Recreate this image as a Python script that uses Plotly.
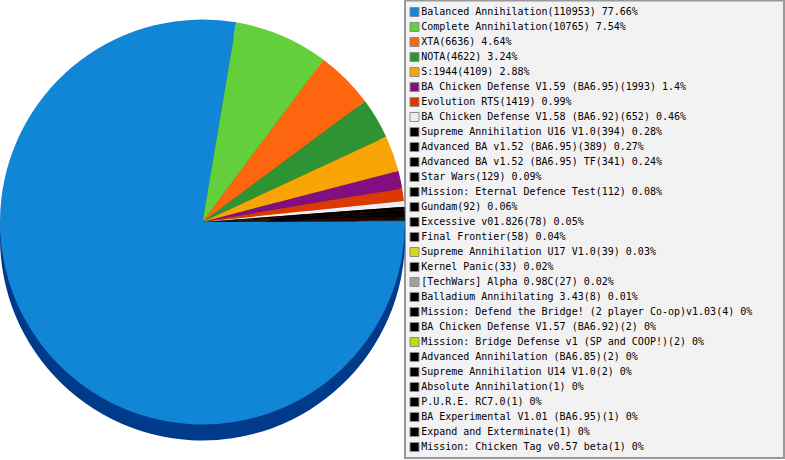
import plotly.graph_objects as go

# ---- data ----
mods = [
    "Balanced Annihilation", "Complete Annihilation", "XTA", "NOTA", "S:1944",
    "BA Chicken Defense V1.59 (BA6.95)", "Evolution RTS", "BA Chicken Defense V1.58 (BA6.92)",
    "Supreme Annihilation U16 V1.0", "Advanced BA v1.52 (BA6.95)", "Advanced BA v1.52 (BA6.95) TF",
    "Star Wars", "Mission: Eternal Defence Test", "Gundam", "Excessive v01.826", "Final Frontier",
    "Supreme Annihilation U17 V1.0", "Kernel Panic", "[TechWars] Alpha 0.98C",
    "Balladium Annihilating 3.43", "Mission: Defend the Bridge! (2 player Co-op)v1.03",
    "BA Chicken Defense V1.57 (BA6.92)", "Mission: Bridge Defense v1 (SP and COOP!)",
    "Advanced Annihilation (BA6.85)", "Supreme Annihilation U14 V1.0", "Absolute Annihilation",
    "P.U.R.E. RC7.0", "BA Experimental V1.01 (BA6.95)", "Expand and Exterminate",
    "Mission: Chicken Tag v0.57 beta",
]
counts = [110953, 10765, 6636, 4622, 4109, 1993, 1419, 652, 394, 389, 341, 129, 112, 92, 78, 58,
          39, 33, 27, 8, 4, 2, 2, 2, 2, 1, 1, 1, 1, 1]
pcts = ["77.66", "7.54", "4.64", "3.24", "2.88", "1.4", "0.99", "0.46", "0.28", "0.27", "0.24",
        "0.09", "0.08", "0.06", "0.05", "0.04", "0.03", "0.02", "0.02", "0.01", "0", "0", "0",
        "0", "0", "0", "0", "0", "0", "0"]

# ---- styles ----
colors = ["#1185d6", "#63cf3a", "#fd660f", "#2e9433", "#f9a405", "#820e80", "#db3900", "#eeeeee",
          "#000000", "#000000", "#000000", "#000000", "#000000", "#000000", "#000000", "#000000",
          "#d8d818", "#000000", "#a0a0a0", "#000000", "#000000", "#000000", "#b8e000", "#000000",
          "#000000", "#000000", "#000000", "#000000", "#000000", "#000000"]
side_colors = ["#003a8a", "#3a8a1e", "#a8420a", "#1a5c1e", "#a86c02", "#50084f", "#8a2400", "#9a9a9a",
               "#000000", "#000000", "#000000", "#000000", "#000000", "#000000", "#000000", "#000000",
               "#8a8a0e", "#000000", "#606060", "#000000", "#000000", "#000000", "#708a00", "#000000",
               "#000000", "#000000", "#000000", "#000000", "#000000", "#000000"]

labels = [f"{m}({c}) {p}%" for m, c, p in zip(mods, counts, pcts)]

W, H = 785, 460
R = 202.5          # pie radius in px
CX, CY = 202.5, 222  # centre (from top-left)
DEPTH = 16         # 3D edge thickness


def dom(cx, cy, r):
    return dict(x=[(cx - r) / W, (cx + r) / W],
                y=[(H - cy - r) / H, (H - cy + r) / H])


fig = go.Figure()

# side (3D edge) of the pie
fig.add_trace(go.Pie(
    labels=mods, values=counts, sort=False, direction="clockwise", rotation=90,
    marker=dict(colors=side_colors, line=dict(width=0)),
    textinfo="none", hoverinfo="skip", showlegend=False,
    domain=dom(CX, CY + DEPTH, R),
))
# top face
fig.add_trace(go.Pie(
    labels=mods, values=counts, sort=False, direction="clockwise", rotation=90,
    marker=dict(colors=colors, line=dict(width=0)),
    textinfo="none", showlegend=False,
    domain=dom(CX, CY, R),
))

# custom legend as a scatter of squares + text
rows = list(range(len(mods)))
fig.add_trace(go.Scatter(
    x=[0] * len(mods), y=rows, mode="markers+text",
    marker=dict(symbol="square", size=9, color=colors, line=dict(width=1, color="#8c8c8c")),
    text=labels, textposition="middle right",
    textfont=dict(family="DejaVu Sans Mono", size=10, color="#000000"),
    cliponaxis=False, hoverinfo="text", showlegend=False,
))

LX0, LX1 = 405, 784
fig.update_layout(
    width=W, height=H,
    margin=dict(l=0, r=0, t=0, b=0),
    paper_bgcolor="#ffffff", plot_bgcolor="rgba(0,0,0,0)",
    showlegend=False,
    xaxis=dict(domain=[LX0 / W, LX1 / W], range=[-9.5, (LX1 - LX0) - 9.5],
               visible=False, fixedrange=True),
    yaxis=dict(domain=[0, 1], range=[(H - 12) / 15, -12 / 15],
               visible=False, fixedrange=True),
    shapes=[dict(type="rect", xref="paper", yref="paper", layer="below",
                 x0=LX0 / W, x1=LX1 / W, y0=(H - 458) / H, y1=(H - 0.5) / H,
                 fillcolor="#f2f2f2", line=dict(color="#999999", width=2))],
)

fig.write_html("out.html",
               config={"displayModeBar": False},
               post_script="document.body.style.margin='0px';document.body.style.overflow='hidden';")
